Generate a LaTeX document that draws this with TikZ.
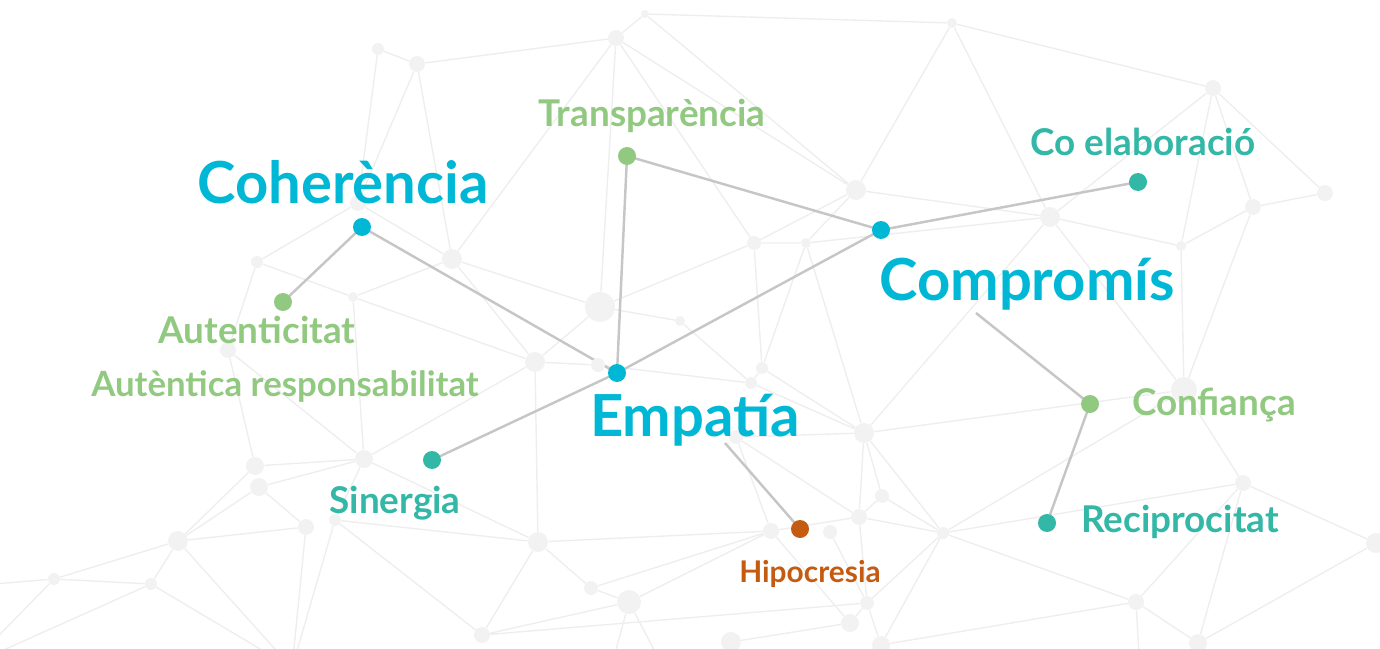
\documentclass[tikz,border=0pt]{standalone}
\usepackage{fontspec}
\setmainfont{Lato}
\usepackage{tikz}
\usetikzlibrary{backgrounds}

\definecolor{valblue}{HTML}{00B8D6}
\definecolor{valgreen}{HTML}{92C981}
\definecolor{valteal}{HTML}{33B7A6}
\definecolor{valorange}{HTML}{C55A11}
\definecolor{linkgray}{HTML}{C6C6C6}
\definecolor{netnode}{HTML}{F2F2F2}
\definecolor{netline}{HTML}{EEEEEE}

\tikzset{
	net/.style={circle, fill=netnode, inner sep=0pt, minimum size=#1*0.4mm},
	netlink/.style={draw=netline, line width=0.8pt},
	link/.style={draw=linkgray, line width=1.4pt},
	dot/.style={circle, fill=#1, inner sep=0pt, minimum size=3.6mm},
	mainword/.style={font=\bfseries\fontsize{33}{38}\selectfont, text=valblue, anchor=base, inner sep=0pt},
	word/.style={font=\bfseries\fontsize{21}{25}\selectfont, text=#1, anchor=base, inner sep=0pt},
	smallword/.style={font=\bfseries\fontsize{17}{20}\selectfont, text=#1, anchor=base, inner sep=0pt}
}

\begin{document}
\begin{tikzpicture}[x=0.02cm, y=-0.02cm]
	\useasboundingbox (0,0) rectangle (1380,649);

	\node[net=4] (n1) at (645,14) {};
	\node[net=8] (n2) at (616,38) {};
	\node[net=6] (n3) at (378,49) {};
	\node[net=8] (n4) at (417,64) {};
	\node[net=5] (n5) at (952,23) {};
	\node[net=8] (n6) at (1213,88) {};
	\node[net=8] (n7) at (1325,193) {};
	\node[net=8] (n8) at (1253,207) {};
	\node[net=5] (n9) at (1181,246) {};
	\node[net=10] (n10) at (1050,217) {};
	\node[net=10] (n11) at (856,190) {};
	\node[net=7] (n12) at (754,243) {};
	\node[net=5] (n13) at (806,243) {};
	\node[net=10] (n14) at (452,259) {};
	\node[net=6] (n15) at (257,262) {};
	\node[net=5] (n16) at (353,297) {};
	\node[net=15] (n17) at (600,307) {};
	\node[net=5] (n18) at (680,321) {};
	\node[net=8] (n19) at (358,203) {};
	\node[net=8] (n20) at (228,350) {};
	\node[net=10] (n21) at (535,362) {};
	\node[net=7] (n22) at (598,365) {};
	\node[net=6] (n23) at (762,368) {};
	\node[net=6] (n24) at (751,383) {};
	\node[net=10] (n25) at (864,433) {};
	\node[net=7] (n26) at (736,437) {};
	\node[net=13] (n27) at (1184,390) {};
	\node[net=9] (n28) at (255,466) {};
	\node[net=9] (n29) at (364,459) {};
	\node[net=9] (n30) at (259,487) {};
	\node[net=8] (n31) at (306,527) {};
	\node[net=6] (n32) at (335,520) {};
	\node[net=10] (n33) at (178,541) {};
	\node[net=10] (n34) at (538,542) {};
	\node[net=6] (n35) at (54,579) {};
	\node[net=6] (n36) at (151,584) {};
	\node[net=7] (n37) at (591,588) {};
	\node[net=12] (n38) at (629,602) {};
	\node[net=8] (n39) at (482,635) {};
	\node[net=7] (n40) at (882,496) {};
	\node[net=8] (n41) at (859,517) {};
	\node[net=8] (n42) at (771,531) {};
	\node[net=7] (n43) at (830,532) {};
	\node[net=6] (n44) at (943,533) {};
	\node[net=7] (n45) at (867,603) {};
	\node[net=9] (n46) at (850,623) {};
	\node[net=10] (n47) at (731,642) {};
	\node[net=9] (n48) at (881,645) {};
	\node[net=8] (n49) at (1243,483) {};
	\node[net=8] (n50) at (1136,602) {};
	\node[net=9] (n51) at (1198,643) {};
	\node[net=10] (n52) at (1376,543) {};
	\coordinate (b1) at (292,668);
	\coordinate (b2) at (605,690);
	\coordinate (b3) at (675,690);
	\coordinate (b4) at (1141,690);
	\coordinate (l1) at (-30,586);
	\coordinate (l2) at (-30,665);

	\begin{pgfonlayer}{background}
		\clip (0,0) rectangle (1380,649);
		\path[netlink]
			(n1) -- (n2) (n1) -- (n5) (n1) -- (n11)
			(n2) -- (n4) (n2) -- (n14) (n2) -- (n17) (n2) -- (n11) (n2) -- (n12)
			(n4) -- (n3) (n3) -- (n19) (n4) -- (n19) (n4) -- (n14)
			(n19) -- (n15) (n19) -- (n14) (n15) -- (n16) (n15) -- (n20)
			(n16) -- (n14) (n16) -- (n29) (n16) -- (n21)
			(n14) -- (n17) (n14) -- (n21) (n17) -- (n18) (n17) -- (n12) (n17) -- (n21)
			(n5) -- (n6) (n5) -- (n11) (n5) -- (n10)
			(n6) -- (n7) (n6) -- (n8) (n6) -- (n9) (n6) -- (n10)
			(n7) -- (n8) (n8) -- (n9) (n8) -- (n27) (n9) -- (n10) (n9) -- (n27)
			(n11) -- (n10) (n11) -- (n12) (n11) -- (n13) (n12) -- (n13)
			(n12) -- (n23) (n13) -- (n23) (n13) -- (n25) (n13) -- (n10)
			(n10) -- (n25) (n10) -- (n27)
			(n18) -- (n24) (n22) -- (n24) (n21) -- (n22) (n21) -- (n34)
			(n20) -- (n28) (n20) -- (n29) (n28) -- (n29) (n30) -- (n29)
			(n29) -- (n21) (n29) -- (n32) (n29) -- (n34)
			(n28) -- (n33) (n30) -- (n33) (n30) -- (n31) (n33) -- (n31)
			(n32) -- (n34) (n32) -- (n39)
			(n31) -- (b1) (n32) -- (b1) (n33) -- (b1) (n36) -- (b1)
			(n33) -- (n35) (n33) -- (n36) (n35) -- (n36)
			(n35) -- (l1) (n35) -- (l2) (n36) -- (l2)
			(n34) -- (n37) (n34) -- (n39) (n34) -- (n42)
			(n37) -- (n38) (n37) -- (n42) (n38) -- (n39) (n38) -- (n42)
			(n38) -- (b2) (n38) -- (b3) (n39) -- (n45)
			(n23) -- (n24) (n23) -- (n25) (n24) -- (n25) (n25) -- (n26)
			(n25) -- (n41) (n25) -- (n40) (n25) -- (n44) (n25) -- (n27)
			(n40) -- (n41) (n40) -- (n44) (n41) -- (n44) (n41) -- (n42)
			(n41) -- (n45) (n43) -- (n45) (n42) -- (n46) (n42) -- (n26)
			(n26) -- (n41) (n45) -- (n44) (n45) -- (n46) (n45) -- (n48)
			(n46) -- (n47) (n44) -- (n49) (n44) -- (n50) (n44) -- (n27) (n44) -- (n48)
			(n27) -- (n49) (n49) -- (n52) (n49) -- (n51) (n49) -- (n50)
			(n50) -- (n51) (n50) -- (b4) (n51) -- (n52) (n48) -- (n50);
	\end{pgfonlayer}

	\node[dot=valblue] (coherencia) at (362,227) {};
	\node[dot=valgreen] (autenticitat) at (283,302) {};
	\node[dot=valgreen] (transparencia) at (627,156) {};
	\node[dot=valblue] (empatia) at (617,373) {};
	\node[dot=valblue] (compromis) at (881,230) {};
	\node[dot=valteal] (coelaboracio) at (1138,182) {};
	\node[dot=valteal] (sinergia) at (432,460) {};
	\node[dot=valorange] (hipocresia) at (800,529) {};
	\node[dot=valgreen] (confianca) at (1090,404) {};
	\node[dot=valteal] (reciprocitat) at (1047,523) {};

	\node[mainword] (lcoherencia) at (343,203) {Coherència};
	\node[mainword] (lcompromis) at (1027,300) {Compromís};
	\node[mainword] (lempatia) at (695,436) {Empatía};
	\node[word=valgreen] (ltransparencia) at (652,126) {Transparència};
	\node[word=valteal] (lcoelaboracio) at (1143,155) {Co elaboració};
	\node[word=valgreen] (lautenticitat) at (257,343) {Autenticitat};
	\node[word=valgreen, font=\bfseries\fontsize{19.8}{24}\selectfont] (lresponsabilitat) at (285,396) {Autèntica responsabilitat};
	\node[word=valteal] (lsinergia) at (395,513) {Sinergia};
	\node[word=valgreen] (lconfianca) at (1214,415) {Confiança};
	\node[word=valteal] (lreciprocitat) at (1180,532) {Reciprocitat};
	\node[smallword=valorange] (lhipocresia) at (810,582) {Hipocresia};

	\coordinate (fromempatia) at (725,443);
	\coordinate (fromcompromis) at (976,313);

	\begin{pgfonlayer}{background}
		\draw[link] (coherencia.center) -- (autenticitat.center);
		\draw[link] (coherencia.center) -- (empatia.center);
		\draw[link] (transparencia.center) -- (empatia.center);
		\draw[link] (transparencia.center) -- (compromis.center);
		\draw[link] (compromis.center) -- (coelaboracio.center);
		\draw[link] (compromis.center) -- (empatia.center);
		\draw[link] (empatia.center) -- (sinergia.center);
		\draw[link] (fromempatia) -- (hipocresia.center);
		\draw[link] (fromcompromis) -- (confianca.center);
		\draw[link] (confianca.center) -- (reciprocitat.center);
	\end{pgfonlayer}
\end{tikzpicture}
\end{document}
